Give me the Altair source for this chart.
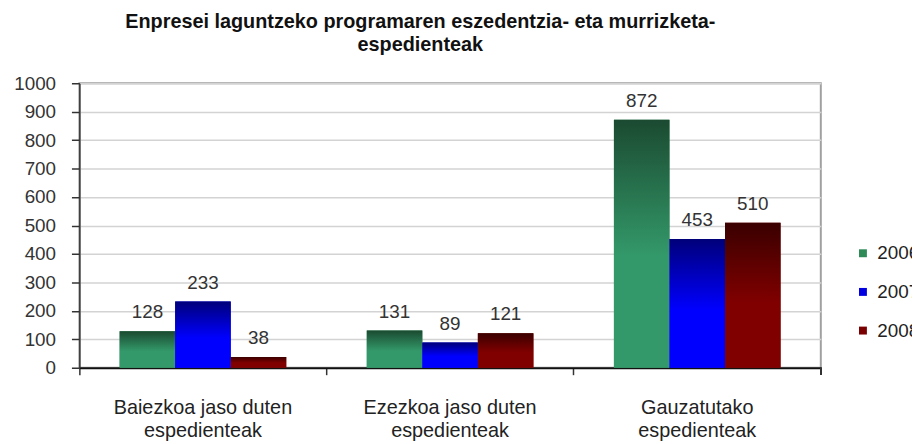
import altair as alt
import pandas as pd

categories = [
    "Baiezkoa jaso duten\nespedienteak\nespedienteak",
    "Ezezkoa jaso duten\nespedienteak\nespedienteak",
    "Gauzatutako\nespedienteak\nespedienteak",
]
years = ["2006", "2007", "2008"]
values_2006 = [128, 131, 872]
values_2007 = [233, 89, 453]
values_2008 = [38, 121, 510]

title_lines = ["Enpresei laguntzeko programaren eszedentzia- eta murrizketa-", "espedienteak"]

rows = []
for yr, vals in zip(years, [values_2006, values_2007, values_2008]):
    for c, v in zip(categories, vals):
        rows.append({"category": c, "year": yr, "value": v})
df = pd.DataFrame(rows)

W, H = 748, 287
FONT = "Liberation Sans"

solid = ["#2e8b57", "#0000e0", "#7a0000"]
grads = {
    "2006": ("#1b4a31", "#33996a"),
    "2007": ("#00007a", "#0000ff"),
    "2008": ("#3a0000", "#800000"),
}

base = alt.Chart(df).encode(
    x=alt.X(
        "category:N",
        sort=categories,
        title=None,
        scale=alt.Scale(paddingInner=0, paddingOuter=0),
        axis=alt.Axis(
            labelAngle=0,
            bandPosition=0,
            labelExpr="split(datum.label, '\\n')",
            labelFont=FONT,
            labelFontSize=20,
            labelColor="#222",
            labelLineHeight=23,
            labelPadding=23,
            labelBaseline="top",
            labelLimit=400,
            domainColor="#111",
            domainWidth=2,
            tickColor="#333",
            tickSize=7,
            tickWidth=1.5,
            grid=False,
        ),
    ),
    xOffset=alt.XOffset("year:N", sort=years, scale=alt.Scale(paddingOuter=0.725, paddingInner=0)),
    y=alt.Y(
        "value:Q",
        title=None,
        scale=alt.Scale(domain=[0, 1000], nice=False),
        axis=alt.Axis(
            values=list(range(0, 1001, 100)),
            format="d",
            labelFont=FONT,
            labelFontSize=19,
            labelColor="#333",
            labelPadding=16,
            tickSize=8,
            tickColor="#333",
            tickWidth=1.5,
            domainColor="#333",
            domainWidth=1.5,
            grid=True,
            gridColor="#d3d3d3",
            gridWidth=1.5,
        ),
    ),
)

bars = base.mark_bar(strokeWidth=0).encode(
    color=alt.Color(
        "year:N",
        scale=alt.Scale(domain=years, range=solid),
        legend=alt.Legend(
            title=None,
            orient="none",
            legendX=781,
            legendY=162,
            symbolType="square",
            symbolSize=64,
            symbolStrokeWidth=0,
            labelFont=FONT,
            labelFontSize=19,
            labelColor="#222",
            rowPadding=19,
            labelOffset=5,
        ),
    )
)

layers = [bars]
for yr in years:
    top, bottom = grads[yr]
    layers.append(
        base.transform_filter(alt.datum.year == yr).mark_bar(
            fill=alt.Gradient(
                gradient="linear",
                x1=0, x2=0, y1=0, y2=1,
                stops=[
                    alt.GradientStop(offset=0, color=top),
                    alt.GradientStop(offset=0.55, color=bottom),
                    alt.GradientStop(offset=1, color=bottom),
                ],
            ),
            stroke=None,
        )
    )

text = base.mark_text(
    baseline="bottom", dy=-9, font=FONT, fontSize=19, color="#333"
).encode(text="value:Q")

end_tick = alt.Chart(df).mark_rule(color="#333", strokeWidth=1.5).encode(
    x=alt.value(W), y=alt.value(H), y2=alt.value(H + 7)
)

chart = alt.layer(*layers, text, end_tick).properties(
    width=W,
    height=H,
    autosize=alt.AutoSizeParams(type="none"),
    padding={"left": 72, "top": 74, "right": 92, "bottom": 75},
    title=alt.TitleParams(
        text=title_lines,
        font=FONT,
        fontSize=20,
        fontWeight="bold",
        color="#111",
        anchor="middle",
        dx=-30,
        offset=20,
        lineHeight=23,
    ),
).configure_view(stroke="#a0a0a0", strokeWidth=2)

chart.save("out.html", embed_options={"renderer": "svg", "actions": False})
